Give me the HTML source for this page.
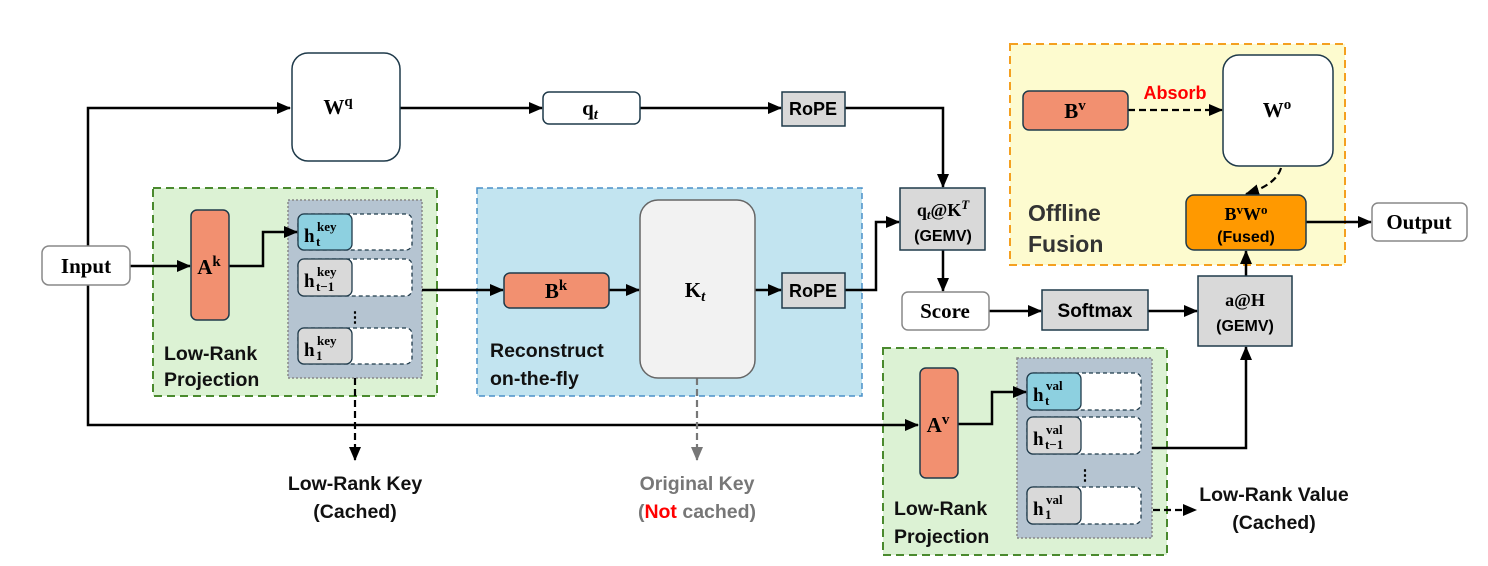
<!DOCTYPE html>
<html><head><meta charset="utf-8"><style>
html,body{margin:0;padding:0;background:#fff;}
svg{display:block;}
.s{font-family:"Liberation Sans",sans-serif;font-weight:bold;}
.r{font-family:"Liberation Serif",serif;font-weight:bold;}
</style></head><body>
<svg width="1488" height="566" viewBox="0 0 1488 566" xmlns="http://www.w3.org/2000/svg">
<defs>
<marker id="a" markerWidth="14" markerHeight="14" refX="13" refY="7" orient="auto" markerUnits="userSpaceOnUse"><path d="M0,1 L14,7 L0,13 z" fill="#000"/></marker>
<marker id="g" markerWidth="14" markerHeight="14" refX="13" refY="7" orient="auto" markerUnits="userSpaceOnUse"><path d="M0,1 L14,7 L0,13 z" fill="#777"/></marker>
</defs>
<rect x="153" y="188" width="284" height="208" fill="#dcf2d4" stroke="#4a8a2e" stroke-width="2" stroke-dasharray="8,5"/>
<rect x="477" y="188" width="385" height="208" fill="#c2e4f0" stroke="#4a90c8" stroke-width="1.5" stroke-dasharray="6,4"/>
<rect x="1010" y="44" width="335" height="221" fill="#fdfbcf" stroke="#f4a020" stroke-width="2" stroke-dasharray="8,5"/>
<rect x="883" y="348" width="284" height="207" fill="#dcf2d4" stroke="#4a8a2e" stroke-width="2" stroke-dasharray="8,5"/>
<rect x="288" y="200" width="134" height="178" fill="#b5c4d1" stroke="#888" stroke-width="1.5" stroke-dasharray="2,2"/>
<rect x="1017" y="358" width="135" height="180" fill="#b5c4d1" stroke="#888" stroke-width="1.5" stroke-dasharray="2,2"/>

<g stroke="#000" stroke-width="2.5" fill="none">
<path d="M88,266 V108 H290" marker-end="url(#a)"/>
<path d="M88,266 V425 H918" marker-end="url(#a)"/>
<path d="M130,266 H190" marker-end="url(#a)"/>
<path d="M229,266 H263 V232 H297" marker-end="url(#a)"/>
<path d="M422,290 H503" marker-end="url(#a)"/>
<path d="M609,290 H639" marker-end="url(#a)"/>
<path d="M755,290 H781" marker-end="url(#a)"/>
<path d="M845,290 H876 V222 H899" marker-end="url(#a)"/>
<path d="M400,108 H542" marker-end="url(#a)"/>
<path d="M640,108 H781" marker-end="url(#a)"/>
<path d="M845,108 H943 V187" marker-end="url(#a)"/>
<path d="M943,250 V291" marker-end="url(#a)"/>
<path d="M989,311 H1041" marker-end="url(#a)"/>
<path d="M1148,311 H1197" marker-end="url(#a)"/>
<path d="M1246,276 V251" marker-end="url(#a)"/>
<path d="M1306,222 H1371" marker-end="url(#a)"/>
<path d="M958,424 H992 V392 H1026" marker-end="url(#a)"/>
<path d="M1152,448 H1246 V347" marker-end="url(#a)"/>
</g>
<g stroke="#000" stroke-width="2.2" fill="none" stroke-dasharray="7,4">
<path d="M355,378 V460" marker-end="url(#a)"/>
<path d="M1153,510 H1196" marker-end="url(#a)"/>
<path d="M1128,110 H1222" marker-end="url(#a)"/>
<path d="M1281,168 Q1276,185 1246,194" marker-end="url(#a)"/>
</g>
<path d="M697,378 V460" stroke="#777" stroke-width="2.2" stroke-dasharray="7,4" fill="none" marker-end="url(#g)"/>

<rect x="42" y="246" width="88" height="39" rx="7" fill="#fff" stroke="#888" stroke-width="1.5"/>
<text x="86" y="273" class="r" font-size="21" text-anchor="middle">Input</text>

<rect x="292" y="53" width="108" height="108" rx="16" fill="#fff" stroke="#1f3a4a" stroke-width="1.5"/>
<text x="338" y="114" class="r" font-size="21" text-anchor="middle">W<tspan dy="-8" font-size="15">q</tspan></text>

<rect x="543" y="92" width="97" height="32" rx="6" fill="#fff" stroke="#1f3a4a" stroke-width="1.5"/>
<text x="590" y="115" class="r" font-size="21" text-anchor="middle">q<tspan font-style="italic" font-size="15" dy="4">t</tspan></text>

<rect x="782" y="92" width="63" height="34" fill="#d9d9d9" stroke="#1f3a4a" stroke-width="1.5"/>
<text x="813" y="115" class="s" font-size="18" text-anchor="middle">RoPE</text>

<rect x="191" y="210" width="38" height="110" rx="6" fill="#f29070" stroke="#1f3a4a" stroke-width="1.5"/>
<text x="209" y="274" class="r" font-size="21" text-anchor="middle">A<tspan dy="-8" font-size="15">k</tspan></text>

<g stroke="#1f3a4a" stroke-width="1.3">
<rect x="298" y="214" width="114" height="36" rx="6" fill="#fff" stroke-dasharray="4,3"/>
<rect x="298" y="214" width="54" height="36" rx="6" fill="#8dd0e0"/>
<rect x="298" y="259" width="114" height="37" rx="6" fill="#fff" stroke-dasharray="4,3"/>
<rect x="298" y="259" width="54" height="37" rx="6" fill="#d9d9d9"/>
<rect x="298" y="328" width="114" height="36" rx="6" fill="#fff" stroke-dasharray="4,3"/>
<rect x="298" y="328" width="54" height="36" rx="6" fill="#d9d9d9"/>
</g>
<g class="r" font-size="19">
<text x="304" y="242">h<tspan x="317" y="231" font-size="13">key</tspan><tspan x="316" y="246" font-size="13">t</tspan></text>
<text x="304" y="287">h<tspan x="317" y="276" font-size="13">key</tspan><tspan x="316" y="291" font-size="13">t−1</tspan></text>
<text x="304" y="356">h<tspan x="317" y="345" font-size="13">key</tspan><tspan x="316" y="360" font-size="13">1</tspan></text>
</g>
<text x="355" y="322" class="s" font-size="15" text-anchor="middle">⋮</text>

<rect x="504" y="273" width="105" height="35" rx="6" fill="#f29070" stroke="#1f3a4a" stroke-width="1.5"/>
<text x="556" y="298" class="r" font-size="21" text-anchor="middle">B<tspan dy="-8" font-size="15">k</tspan></text>

<rect x="640" y="200" width="115" height="178" rx="18" fill="#f2f2f2" stroke="#666" stroke-width="1.5"/>
<text x="695" y="297" class="r" font-size="21" text-anchor="middle">K<tspan font-style="italic" font-size="15" dy="4">t</tspan></text>

<rect x="782" y="273" width="63" height="35" fill="#d9d9d9" stroke="#1f3a4a" stroke-width="1.5"/>
<text x="813" y="297" class="s" font-size="18" text-anchor="middle">RoPE</text>

<rect x="900" y="188" width="85" height="62" fill="#d9d9d9" stroke="#1f3a4a" stroke-width="1.5"/>
<text x="943" y="216" class="r" font-size="18" text-anchor="middle">q<tspan font-style="italic" font-size="13" dy="3">t</tspan><tspan dy="-3">@K</tspan><tspan font-style="italic" font-size="13" dy="-7">T</tspan></text>
<text x="943" y="241" class="s" font-size="16" text-anchor="middle">(GEMV)</text>

<rect x="902" y="292" width="87" height="38" rx="6" fill="#fff" stroke="#888" stroke-width="1.5"/>
<text x="945" y="318" class="r" font-size="21" text-anchor="middle">Score</text>

<rect x="1042" y="290" width="106" height="40" fill="#d9d9d9" stroke="#1f3a4a" stroke-width="1.5"/>
<text x="1095" y="317" class="s" font-size="19" text-anchor="middle">Softmax</text>

<rect x="1198" y="276" width="94" height="70" fill="#d9d9d9" stroke="#1f3a4a" stroke-width="1.5"/>
<text x="1245" y="306" class="r" font-size="18" text-anchor="middle">a@H</text>
<text x="1245" y="331" class="s" font-size="16" text-anchor="middle">(GEMV)</text>

<rect x="1023" y="91" width="105" height="39" rx="6" fill="#f29070" stroke="#1f3a4a" stroke-width="1.5"/>
<text x="1075" y="118" class="r" font-size="21" text-anchor="middle">B<tspan dy="-8" font-size="15">v</tspan></text>
<text x="1175" y="99" class="s" font-size="18" fill="#ff0000" text-anchor="middle">Absorb</text>

<rect x="1223" y="55" width="110" height="111" rx="16" fill="#fff" stroke="#1f3a4a" stroke-width="1.5"/>
<text x="1277" y="117" class="r" font-size="21" text-anchor="middle">W<tspan dy="-8" font-size="15">o</tspan></text>

<rect x="1186" y="195" width="120" height="55" rx="8" fill="#ff9900" stroke="#1f3a4a" stroke-width="1.5"/>
<text x="1246" y="220" class="r" font-size="18" text-anchor="middle">B<tspan dy="-6" font-size="13">v</tspan><tspan dy="6">W</tspan><tspan dy="-6" font-size="13">o</tspan></text>
<text x="1246" y="242" class="s" font-size="16" text-anchor="middle">(Fused)</text>

<rect x="1372" y="203" width="95" height="38" rx="6" fill="#fff" stroke="#888" stroke-width="1.5"/>
<text x="1419" y="229" class="r" font-size="21" text-anchor="middle">Output</text>

<text x="1028" y="221" class="s" font-size="23" fill="#333">Offline</text>
<text x="1028" y="252" class="s" font-size="23" fill="#333">Fusion</text>

<rect x="920" y="368" width="38" height="110" rx="6" fill="#f29070" stroke="#1f3a4a" stroke-width="1.5"/>
<text x="938" y="432" class="r" font-size="21" text-anchor="middle">A<tspan dy="-8" font-size="15">v</tspan></text>

<g stroke="#1f3a4a" stroke-width="1.3">
<rect x="1027" y="373" width="114" height="37" rx="6" fill="#fff" stroke-dasharray="4,3"/>
<rect x="1027" y="373" width="54" height="37" rx="6" fill="#8dd0e0"/>
<rect x="1027" y="417" width="114" height="37" rx="6" fill="#fff" stroke-dasharray="4,3"/>
<rect x="1027" y="417" width="54" height="37" rx="6" fill="#d9d9d9"/>
<rect x="1027" y="487" width="114" height="37" rx="6" fill="#fff" stroke-dasharray="4,3"/>
<rect x="1027" y="487" width="54" height="37" rx="6" fill="#d9d9d9"/>
</g>
<g class="r" font-size="19">
<text x="1033" y="401">h<tspan x="1046" y="390" font-size="13">val</tspan><tspan x="1045" y="405" font-size="13">t</tspan></text>
<text x="1033" y="445">h<tspan x="1046" y="434" font-size="13">val</tspan><tspan x="1045" y="449" font-size="13">t−1</tspan></text>
<text x="1033" y="515">h<tspan x="1046" y="504" font-size="13">val</tspan><tspan x="1045" y="519" font-size="13">1</tspan></text>
</g>
<text x="1085" y="480" class="s" font-size="15" text-anchor="middle">⋮</text>

<g class="s" font-size="19.5" fill="#111">
<text x="164" y="360">Low-Rank</text>
<text x="164" y="386">Projection</text>
<text x="490" y="357">Reconstruct</text>
<text x="490" y="385">on-the-fly</text>
<text x="894" y="515">Low-Rank</text>
<text x="894" y="543">Projection</text>
<text x="355" y="490" text-anchor="middle">Low-Rank Key</text>
<text x="355" y="518" text-anchor="middle">(Cached)</text>
<text x="1274" y="501" text-anchor="middle">Low-Rank Value</text>
<text x="1274" y="529" text-anchor="middle">(Cached)</text>
</g>
<g class="s" font-size="19.5" fill="#777">
<text x="697" y="490" text-anchor="middle">Original Key</text>
<text x="697" y="518" text-anchor="middle">(<tspan fill="#ff0000">Not</tspan> cached)</text>
</g>
</svg>
</body></html>
